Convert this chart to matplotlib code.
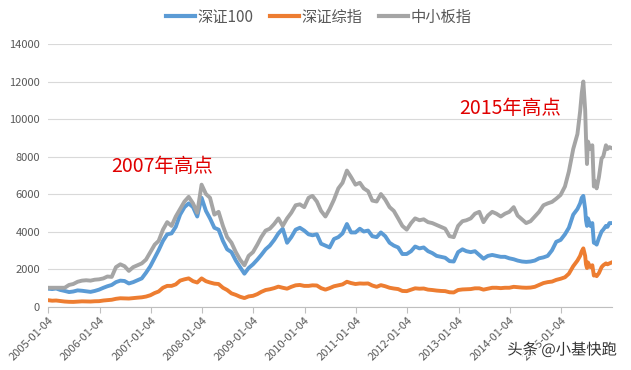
import matplotlib
matplotlib.use("Agg")
import matplotlib.pyplot as plt
import matplotlib.dates as mdates
import pandas as pd

plt.rcParams['font.family'] = ['Noto Sans CJK SC', 'DejaVu Sans']

dates = [
    "2005-01-04", "2005-02-01", "2005-03-01", "2005-04-01", "2005-05-01", "2005-06-01",
    "2005-07-01", "2005-08-01", "2005-09-01", "2005-10-01", "2005-11-01", "2005-12-01",
    "2006-01-01", "2006-02-01", "2006-03-01", "2006-04-01", "2006-05-01", "2006-06-01",
    "2006-07-01", "2006-08-01", "2006-09-01", "2006-10-01", "2006-11-01", "2006-12-01",
    "2007-01-01", "2007-02-01", "2007-03-01", "2007-04-01", "2007-05-01", "2007-06-01",
    "2007-07-01", "2007-08-01", "2007-09-01", "2007-10-01", "2007-11-01", "2007-12-01",
    "2008-01-01", "2008-02-01", "2008-03-01", "2008-04-01", "2008-05-01", "2008-06-01",
    "2008-07-01", "2008-08-01", "2008-09-01", "2008-10-01", "2008-11-01", "2008-12-01",
    "2009-01-01", "2009-02-01", "2009-03-01", "2009-04-01", "2009-05-01", "2009-06-01",
    "2009-07-01", "2009-08-01", "2009-09-01", "2009-10-01", "2009-11-01", "2009-12-01",
    "2010-01-01", "2010-02-01", "2010-03-01", "2010-04-01", "2010-05-01", "2010-06-01",
    "2010-07-01", "2010-08-01", "2010-09-01", "2010-10-01", "2010-11-01", "2010-12-01",
    "2011-01-01", "2011-02-01", "2011-03-01", "2011-04-01", "2011-05-01", "2011-06-01",
    "2011-07-01", "2011-08-01", "2011-09-01", "2011-10-01", "2011-11-01", "2011-12-01",
    "2012-01-01", "2012-02-01", "2012-03-01", "2012-04-01", "2012-05-01", "2012-06-01",
    "2012-07-01", "2012-08-01", "2012-09-01", "2012-10-01", "2012-11-01", "2012-12-01",
    "2013-01-01", "2013-02-01", "2013-03-01", "2013-04-01", "2013-05-01", "2013-06-01",
    "2013-07-01", "2013-08-01", "2013-09-01", "2013-10-01", "2013-11-01", "2013-12-01",
    "2014-01-01", "2014-02-01", "2014-03-01", "2014-04-01", "2014-05-01", "2014-06-01",
    "2014-07-01", "2014-08-01", "2014-09-01", "2014-10-01", "2014-11-01", "2014-12-01",
    "2015-01-01", "2015-02-01", "2015-03-01", "2015-04-01", "2015-05-01", "2015-05-20",
    "2015-06-01", "2015-06-12", "2015-06-25", "2015-07-01", "2015-07-08", "2015-07-15",
    "2015-08-01", "2015-08-15", "2015-08-26", "2015-09-01", "2015-09-15", "2015-10-01",
    "2015-10-20", "2015-11-01", "2015-11-20", "2015-12-01", "2015-12-15", "2015-12-31",
]

sz100 = [
    950, 930, 960, 880, 830, 770, 800, 860, 840, 810, 780, 830,
    900, 1000, 1080, 1150, 1300, 1380, 1360, 1230, 1300, 1400, 1500, 1800,
    2150, 2600, 3000, 3500, 3850, 3900, 4250, 4900, 5300, 5500, 5300, 4800,
    5800, 5100, 4700, 4200, 4100, 3500, 3050, 2900, 2450, 2100, 1750, 2050,
    2250, 2500, 2750, 3050, 3250, 3550, 3900, 4150, 3400, 3700, 4100, 4200,
    4050, 3850, 3800, 3850, 3350, 3250, 3150, 3600, 3700, 3900, 4400, 3950,
    3950, 4150, 4000, 4050, 3750, 3700, 3950, 3750, 3400, 3250, 3150, 2800,
    2800, 2950, 3200, 3100, 3150, 2950, 2850, 2700, 2650, 2600, 2420, 2400,
    2900, 3050, 2950, 2900, 2950, 2750, 2550, 2700, 2750, 2700, 2650, 2650,
    2570, 2520, 2450, 2400, 2380, 2400, 2450, 2570, 2620, 2700, 3000, 3450,
    3550, 3850, 4200, 4900, 5200, 5500, 5800, 5900, 5200, 4600, 4300, 4700,
    4300, 4450, 3400, 3400, 3300, 3650, 4000, 4100, 4300, 4250, 4450, 4450,
]

szcomp = [
    335, 310, 320, 290, 265, 250, 245, 260, 275, 270, 265, 280,
    285, 320, 340, 360, 410, 440, 430, 425, 450, 470, 490, 530,
    600, 720, 800, 1000, 1100, 1100, 1180, 1380, 1450, 1500, 1350, 1280,
    1500, 1350, 1280, 1220, 1200, 1000, 880, 700, 620, 520, 450, 540,
    570, 660, 780, 880, 920, 980, 1060, 1000, 950, 1050, 1130, 1150,
    1100, 1100, 1130, 1120, 980, 900, 980, 1080, 1130, 1180, 1320, 1250,
    1200, 1230, 1220, 1230, 1120, 1050, 1140, 1080, 1000, 960, 930, 830,
    820, 900, 970, 950, 960, 900, 880, 850, 830, 820, 760, 750,
    880, 910, 920, 930, 970, 970, 900, 950, 1000, 1000, 980, 1000,
    1000, 1050, 1030, 1010, 1000, 1010, 1050, 1150, 1250, 1300, 1330, 1420,
    1480, 1560, 1750, 2150, 2450, 2700, 2950, 3100, 2700, 2250, 2050, 2350,
    2100, 2200, 1650, 1700, 1620, 1780, 2100, 2200, 2300, 2250, 2300, 2350,
]

sme = [
    1000, 1000, 1000, 1000, 1000, 1150, 1200, 1320, 1380, 1400, 1380, 1430,
    1450, 1500, 1600, 1580, 2100, 2250, 2150, 1900, 2100, 2200, 2300, 2500,
    2900, 3300, 3500, 4100, 4500, 4300, 4800, 5200, 5600, 5850, 5500, 5000,
    6500, 6000, 5800, 4900, 5050, 4300, 3700, 3400, 2900, 2500, 2200, 2700,
    2900, 3300, 3700, 4050, 4150, 4400, 4700, 4300, 4700, 5000, 5400, 5450,
    5300, 5800, 5900, 5600, 5100, 4800, 5200, 5700, 6300, 6600, 7250, 6900,
    6500, 6600, 6300, 6150, 5650, 5600, 6000, 5700, 5300, 5100, 4700, 4300,
    4100, 4450, 4700, 4600, 4650, 4500, 4450, 4350, 4250, 4150, 3750, 3700,
    4300, 4550, 4600, 4700, 4950, 5050, 4500, 4850, 5050, 4950, 4800, 4950,
    5050, 5300, 4850, 4650, 4450, 4550, 4800, 5050, 5400, 5500, 5580, 5750,
    5950, 6400, 7200, 8400, 9200, 10400, 11400, 12000, 10500, 9000, 7600, 8800,
    8400, 8600, 6400, 6700, 6300, 6900, 7900, 8000, 8600, 8400, 8500, 8450,
]

series_names = ["深证100", "深证综指", "中小板指"]
series_colors = ["#5B9BD5", "#ED7D31", "#A5A5A5"]
tick_years = list(range(2005, 2016))
tick_labels = [f"{y}-01-04" for y in tick_years]
y_ticks = list(range(0, 14001, 2000))

x = pd.to_datetime(dates)

fig = plt.figure(figsize=(6.31, 3.70), dpi=100)
ax = fig.add_axes([0.0765, 0.1716, 0.8929, 0.7094])

for vals, name, col in zip([sz100, szcomp, sme], series_names, series_colors):
    ax.plot(x, vals, color=col, lw=2.8, label=name, solid_joinstyle='round')

ax.set_ylim(0, 14000)
ax.set_xlim(pd.Timestamp("2005-01-04"), pd.Timestamp("2015-12-31"))
ax.set_yticks(y_ticks)
ax.set_yticklabels([str(v) for v in y_ticks], fontsize=8, color="#595959")
ax.grid(axis='y', color="#D9D9D9", lw=0.8)
ax.set_axisbelow(True)

tick_pos = pd.to_datetime(tick_labels)
ax.set_xticks(tick_pos)
ax.set_xticklabels(tick_labels, rotation=45, ha='right', va='top',
                   rotation_mode='anchor', fontsize=8, color="#595959")
ax.tick_params(axis='x', length=4, color="#BFBFBF", pad=2)
ax.tick_params(axis='y', length=0, pad=6)

for s in ['top', 'right', 'left']:
    ax.spines[s].set_visible(False)
ax.spines['bottom'].set_color("#BFBFBF")
ax.spines['bottom'].set_linewidth(0.8)

leg = fig.legend(loc='center', bbox_to_anchor=(319 / 631, 1 - 17 / 370), ncol=3,
                 frameon=False, fontsize=11, handlelength=1.9, handletextpad=0.15,
                 columnspacing=1.1, labelcolor="#595959")
for h in leg.get_lines():
    h.set_linewidth(3)

fig.text(162.5 / 631, 1 - 166.5 / 370, "2007年高点", color="#E00000", fontsize=14,
         ha='center', va='center')
fig.text(510.5 / 631, 1 - 109 / 370, "2015年高点", color="#E00000", fontsize=14,
         ha='center', va='center')

import matplotlib.patheffects as pe
fig.text(562 / 631, 1 - 350 / 370, "头条 @小基快跑", color="#333333", fontsize=11,
         ha='center', va='center',
         path_effects=[pe.withStroke(linewidth=2, foreground="white")])

fig.savefig("out.png", dpi=100)
